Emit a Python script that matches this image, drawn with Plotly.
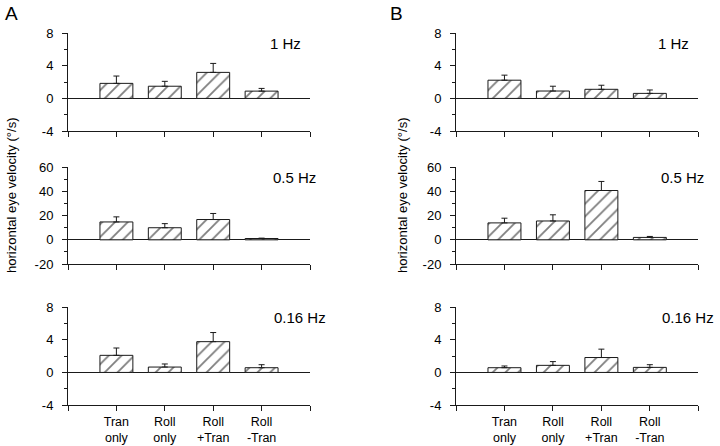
import plotly.graph_objects as go

categories = ["Tran<br>only", "Roll<br>only", "Roll<br>+Tran", "Roll<br>-Tran"]
cat_pos = [1, 2, 3, 4]

# Panel A values (mean) and upper error
A_1hz = [1.85, 1.5, 3.2, 0.9]
A_1hz_err = [0.9, 0.6, 1.1, 0.33]
A_05hz = [14.8, 10.0, 16.8, 1.1]
A_05hz_err = [4.2, 3.4, 5.0, 0.3]
A_016hz = [2.1, 0.66, 3.78, 0.58]
A_016hz_err = [0.9, 0.38, 1.12, 0.37]

# Panel B values
B_1hz = [2.24, 0.91, 1.12, 0.62]
B_1hz_err = [0.62, 0.59, 0.5, 0.42]
B_05hz = [14.0, 15.6, 40.8, 2.0]
B_05hz_err = [3.9, 5.1, 7.5, 0.8]
B_016hz = [0.58, 0.87, 1.83, 0.62]
B_016hz_err = [0.21, 0.46, 1.03, 0.33]

freq_labels = ["1 Hz", "0.5 Hz", "0.16 Hz"]
y_ranges = [[-4, 8], [-20, 60], [-4, 8]]
y_tickvals = [[-4, 0, 4, 8], [-20, 0, 20, 40, 60], [-4, 0, 4, 8]]
y_ticktext = [["-4", "0", "4", "8"], ["-20", "0", "20", "40", "60"], ["-4", "0", "4", "8"]]
y_minor = [2, 10, 2]
y_title = "horizontal eye velocity (°/s)"

panels = [
    ("A", [A_1hz, A_05hz, A_016hz], [A_1hz_err, A_05hz_err, A_016hz_err]),
    ("B", [B_1hz, B_05hz, B_016hz], [B_1hz_err, B_05hz_err, B_016hz_err]),
]

W, H = 720, 446
x_px = [(68.0, 310.0), (456.0, 698.3)]
x_domains = [[a / W, b / W] for (a, b) in x_px]
y_px = [(33.3, 131.0), (167.3, 264.0), (307.3, 405.0)]
y_domains = [[1 - b / H, 1 - t / H] for (t, b) in y_px]
freq_right_offset = [-7, 8, 18]

FONT = "Liberation Sans, Arial, sans-serif"

fig = go.Figure()
layout = dict(
    width=W, height=H,
    margin=dict(l=0, r=0, t=0, b=0, pad=0, autoexpand=False),
    paper_bgcolor="white", plot_bgcolor="white",
    showlegend=False,
    font=dict(family=FONT, color="black", size=12),
    annotations=[],
)

idx = 0
for p, (pname, vals, errs) in enumerate(panels):
    for r in range(3):
        idx += 1
        xa = "x" if idx == 1 else f"x{idx}"
        ya = "y" if idx == 1 else f"y{idx}"
        fig.add_trace(go.Bar(
            x=cat_pos, y=vals[r], width=0.68,
            xaxis=xa, yaxis=ya,
            marker=dict(
                color="white",
                line=dict(color="#1a1a1a", width=1),
                pattern=dict(shape="/", fgcolor="#000", bgcolor="white",
                             size=9, solidity=0.2),
            ),
            error_y=dict(type="data", symmetric=False, array=errs[r],
                         arrayminus=[0] * 4, color="#1a1a1a", thickness=1, width=3),
        ))
        bottom = (r == 2)
        layout["xaxis" if idx == 1 else f"xaxis{idx}"] = dict(
            domain=x_domains[p], anchor=ya, range=[0, 5],
            tickvals=[0, 1, 2, 3, 4, 5],
            ticktext=[""] + (categories if bottom else [""] * 4) + [""],
            ticks="outside", ticklen=5, tickcolor="#1a1a1a",
            showline=True, linecolor="#1a1a1a", linewidth=1,
            showgrid=False, zeroline=False,
            tickfont=dict(size=12.5, family=FONT),
            automargin=False,
            fixedrange=True,
        )
        layout["yaxis" if idx == 1 else f"yaxis{idx}"] = dict(
            domain=y_domains[r], anchor=xa, range=y_ranges[r],
            tickmode="array", tickvals=y_tickvals[r], ticktext=y_ticktext[r],
            ticks="outside", ticklen=5, tickcolor="#1a1a1a",
            minor=dict(dtick=y_minor[r], tick0=0, ticks="outside", ticklen=3,
                       tickcolor="#1a1a1a", showgrid=False),
            showline=True, linecolor="#1a1a1a", linewidth=1,
            showgrid=False, zeroline=True, zerolinecolor="#1a1a1a", zerolinewidth=1,
            tickfont=dict(size=13, family=FONT),
            ticklabelstandoff=6,
            automargin=False,
            fixedrange=True,
        )
        # frequency label
        layout["annotations"].append(dict(
            xref="paper", yref="paper",
            x=(x_px[p][1] + freq_right_offset[r]) / W,
            y=1 - (y_px[r][0] + 10) / H,
            text=freq_labels[r], showarrow=False,
            xanchor="right", yanchor="middle",
            font=dict(size=15, family=FONT),
        ))
    # panel letter
    layout["annotations"].append(dict(
        xref="paper", yref="paper",
        x=(11 if p == 0 else 396) / W, y=1 - 14 / H,
        text=pname, showarrow=False, xanchor="center", yanchor="middle",
        font=dict(size=19, family=FONT),
    ))
    # y title
    layout["annotations"].append(dict(
        xref="paper", yref="paper",
        x=(12 if p == 0 else 403) / W, y=1 - 196 / H,
        text=y_title, showarrow=False, textangle=-90,
        xanchor="center", yanchor="middle",
        font=dict(size=13, family=FONT),
    ))

fig.update_layout(**layout)
fig.write_html(
    "out.html",
    config={"displayModeBar": False},
    post_script="document.body.style.margin='0';document.body.style.padding='0';",
)
